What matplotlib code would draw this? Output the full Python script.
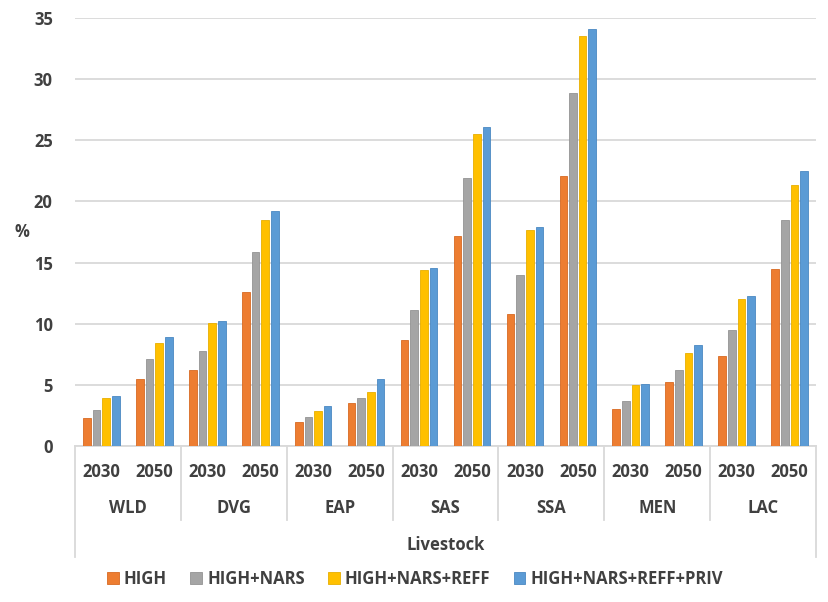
import numpy as np
import matplotlib
matplotlib.use("Agg")
import matplotlib.pyplot as plt
import matplotlib.transforms as mtransforms

plt.rcParams['font.family'] = ['Open Sans', 'DejaVu Sans']

# Data (% values)
regions = ['WLD', 'DVG', 'EAP', 'SAS', 'SSA', 'MEN', 'LAC']
years = ['2030', '2050']
series_names = ['HIGH', 'HIGH+NARS', 'HIGH+NARS+REFF', 'HIGH+NARS+REFF+PRIV']

# order: WLD 2030, WLD 2050, DVG 2030, DVG 2050, ...
high = [2.3, 5.5, 6.2, 12.6, 2.0, 3.5, 8.7, 17.2, 10.8, 22.1, 3.0, 5.2, 7.4, 14.5]
high_nars = [2.95, 7.1, 7.8, 15.9, 2.35, 3.95, 11.1, 21.9, 13.95, 28.9, 3.65, 6.25, 9.45, 18.45]
high_nars_reff = [3.95, 8.4, 10.05, 18.45, 2.9, 4.45, 14.4, 25.55, 17.7, 33.5, 4.95, 7.6, 12.05, 21.35]
high_nars_reff_priv = [4.05, 8.95, 10.25, 19.25, 3.25, 5.5, 14.55, 26.1, 17.9, 34.1, 5.1, 8.3, 12.3, 22.5]

colors = ['#ED7D31', '#A5A5A5', '#FFC000', '#5B9BD5']
edges = ['#D86A22', '#939393', '#E8AE00', '#4A88C2']
text_color = '#404040'
grid_color = '#D9D9D9'
fw = 'bold'

all_series = [high, high_nars, high_nars_reff, high_nars_reff_priv]
n_cat = len(regions) * len(years)
x = np.arange(n_cat)

fig = plt.figure(figsize=(8.29, 6.02), dpi=100)
ax = fig.add_axes([75 / 829, 1 - 446 / 602, (816 - 75) / 829, (446 - 18) / 602])

bar_w = 0.145
pitch = 0.182
for i, (vals, name) in enumerate(zip(all_series, series_names)):
    ax.bar(x + (i - 1.5) * pitch, vals, width=bar_w, color=colors[i],
           edgecolor=edges[i], linewidth=0.6, label=name, zorder=3)

ax.set_xlim(-0.5, n_cat - 0.5)
ax.set_ylim(0, 35)
ax.set_yticks(np.arange(0, 36, 5))
ax.tick_params(axis='y', length=0, pad=16, labelsize=12, labelcolor=text_color)
for lab in ax.get_yticklabels():
    lab.set_fontweight(fw)
ax.yaxis.grid(True, color=grid_color, linewidth=1.3, zorder=0)
ax.set_axisbelow(True)
for s in ['top', 'right', 'left']:
    ax.spines[s].set_visible(False)
ax.spines['bottom'].set_color(grid_color)
ax.spines['bottom'].set_linewidth(1.3)
ax.set_xticks([])

# multi-level category axis
trans = mtransforms.blended_transform_factory(ax.transData, ax.transAxes)
axh = 446 - 18
def ya(ypx):
    return (446 - ypx) / axh

for j in range(n_cat):
    ax.text(x[j], ya(472), years[j % 2], transform=trans, ha='center', va='center',
            fontsize=12, fontweight=fw, color=text_color)
for k, reg in enumerate(regions):
    ax.text(2 * k + 0.5, ya(508), reg, transform=trans, ha='center', va='center',
            fontsize=12, fontweight=fw, color=text_color)
ax.text(0.5, ya(545), 'Livestock', transform=ax.transAxes, ha='center', va='center',
        fontsize=12, fontweight=fw, color=text_color)

for k in range(1, len(regions)):
    bx = 2 * k - 0.5
    ax.plot([bx, bx], [0, ya(520)], transform=trans, color=grid_color, lw=1.3, clip_on=False)
for bx in [-0.5, n_cat - 0.5]:
    ax.plot([bx, bx], [0, ya(557)], transform=trans, color=grid_color, lw=1.3, clip_on=False)

fig.text(22 / 829, 1 - 232 / 602, '%', ha='center', va='center', fontsize=12,
         fontweight=fw, color=text_color)

fig.legend(loc='center', bbox_to_anchor=(415 / 829, 1 - 579 / 602), ncol=4, frameon=False,
           handlelength=0.7, handleheight=0.7, handletextpad=0.3, columnspacing=1.4,
           prop={'size': 12, 'weight': fw}, labelcolor=text_color)

fig.savefig('out.png', dpi=100)
